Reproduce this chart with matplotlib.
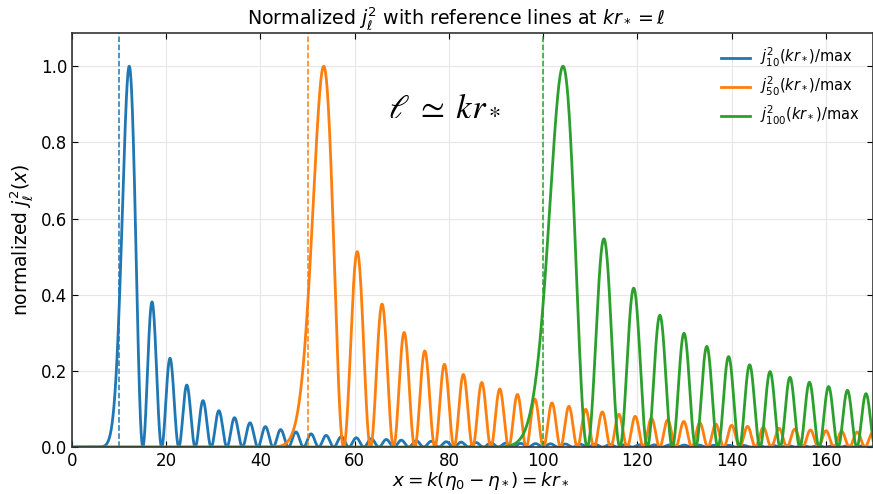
import numpy as np
import matplotlib
matplotlib.use("Agg")
import matplotlib.pyplot as plt

# multipoles shown and sampling range of x = k r_*
ells = [10, 50, 100]
colors = ["#1f77b4", "#ff7f0e", "#2ca02c"]
x_min, x_max, n_pts = 0.05, 172.0, 6000
xticks = [0, 20, 40, 60, 80, 100, 120, 140, 160]
yticks = [0.0, 0.2, 0.4, 0.6, 0.8, 1.0]


def sph_jn_squared(ls, x, n_top=420):
    # Miller backward recurrence, normalised with sum (2n+1) j_n^2 = 1
    j_np1 = np.zeros_like(x)
    j_n = np.full_like(x, 1e-20)
    s = np.zeros_like(x)
    store = {}
    for n in range(n_top, 0, -1):
        s += (2 * n + 1) * j_n ** 2
        if n in ls:
            store[n] = j_n.copy()
        j_nm1 = (2 * n + 1) / x * j_n - j_np1
        j_np1, j_n = j_n, j_nm1
        big = np.abs(j_n) > 1e100
        if big.any():
            j_n[big] *= 1e-100
            j_np1[big] *= 1e-100
            s[big] *= 1e-200
            for k in store:
                store[k][big] *= 1e-100
    s += j_n ** 2
    return {l: store[l] ** 2 / s for l in ls}


x = np.linspace(x_min, x_max, n_pts)
jsq = sph_jn_squared(ells, x)

fig = plt.figure(figsize=(8.73, 4.94), dpi=100)
ax = fig.add_axes([0.0825, 0.095, 0.9175, 0.838])

for l, c in zip(ells, colors):
    y = jsq[l] / jsq[l].max()
    ax.plot(x, y, color=c, lw=2.0, label=r"$j_{%d}^2(kr_*)$/max" % l)
    ax.axvline(l, color=c, ls="--", lw=1.1)

ax.set_xlim(0, 170)
ax.set_ylim(0, 1.087)
ax.set_xticks(xticks)
ax.set_yticks(yticks)
ax.grid(True, color="#e6e6e6", lw=0.8)
ax.tick_params(direction="in", top=True, right=True, labelsize=12, length=4)
for sp in ax.spines.values():
    sp.set_linewidth(1.2)
    sp.set_color("#333333")

ax.set_title(r"Normalized $j_\ell^2$ with reference lines at $kr_* = \ell$",
             fontsize=13.7, pad=6, x=0.48)
ax.set_ylabel(r"normalized $j_\ell^2(x)$", fontsize=13.5)
ax.set_xlabel(r"$x = k(\eta_0 - \eta_*) = kr_*$", fontsize=13.3, labelpad=1)
ax.xaxis.set_label_coords(0.51, -0.055)

ax.text(0.395, 0.826, r"$\ell\;\simeq\;kr_*$", transform=ax.transAxes,
        fontsize=25, math_fontfamily="stix", ha="left", va="center")

ax.legend(loc="upper right", frameon=False, fontsize=10.5,
          handlelength=2.0, borderaxespad=0.5, labelspacing=0.4,
          handletextpad=0.7)

fig.savefig("out.png", dpi=100)
plt.close(fig)
